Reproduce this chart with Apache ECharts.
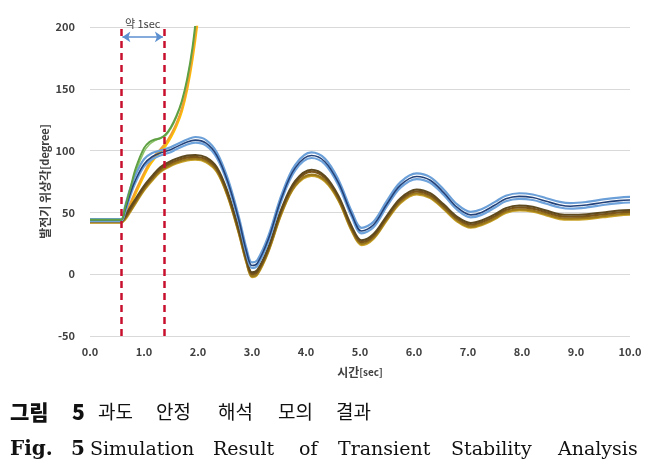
<!DOCTYPE html>
<html><head><meta charset="utf-8">
<script src="https://cdn.jsdelivr.net/npm/echarts@6/dist/echarts.min.js"></script>
<style>html,body{margin:0;padding:0;background:#fff}#c{width:660px;height:467px}</style>
</head><body><div id="c"></div><script>
// ---- axes ----
const yTicks = [-50, 0, 50, 100, 150, 200];
const xTicks = [0, 1, 2, 3, 4, 5, 6, 7, 8, 9, 10];
const faultStart = 0.58, faultClear = 1.37;
const arrowLevel = 192;
const annotation = '약 1sec';
const xName = '시간';
const xUnit = '[sec]';
const yName = '발전기 위상각';
const yUnit = '[degree]';

// ---- unstable cases (time base + angles) ----
const tUnstable = [0, 0.5, 0.58, 0.65, 0.75, 0.85, 1.0, 1.1, 1.2, 1.3, 1.4, 1.5, 1.6, 1.7, 1.8, 1.9, 2.0, 2.05];
const vGreen    = [44, 44, 44, 54, 70, 86, 102, 107, 109, 110, 113, 119, 128, 140, 158, 184, 222, 245];
const vGreen2   = [43, 43, 43, 52, 67, 83, 99, 105, 108, 110, 112, 118, 127, 139, 157, 182, 218, 240];
const vOrange   = [43, 43, 43, 48, 58, 68, 82, 90, 96, 101, 106, 113, 122, 134, 152, 178, 212, 235];
const vYellow   = [42, 42, 42, 47, 56, 66, 80, 88, 94, 99, 104, 111, 120, 132, 150, 175, 208, 232];

// ---- stable cases (shared time base) ----
const tStable  = [0, 0.5, 0.58, 0.65, 0.75, 0.85, 1.0, 1.15, 1.3, 1.45, 1.6, 1.8, 1.95, 2.15, 2.35, 2.55, 2.75, 2.9, 3.0, 3.1, 3.3, 3.55, 3.8, 4.1, 4.35, 4.6, 4.85, 5.03, 5.25, 5.5, 5.75, 6.05, 6.3, 6.55, 6.8, 7.05, 7.25, 7.5, 7.7, 7.95, 8.2, 8.45, 8.7, 8.9, 9.2, 9.5, 9.8, 10.0];
const vBlueHi  = [44.5, 44.5, 44.5, 55, 70, 81, 93, 98, 100, 102, 105, 109, 111, 108.5, 98.5, 77.5, 47.5, 20.5, 9.5, 11.5, 30.5, 64.5, 88.5, 98.5, 93.5, 76.5, 50.5, 37.5, 42.5, 59.5, 74.5, 81.5, 78.5, 68.5, 56.5, 50.5, 52.5, 58.5, 63.5, 65.5, 64.5, 61.5, 58.5, 57.5, 58.5, 60.5, 62, 62.5];
const vNavy    = [44, 44, 44, 52, 66, 77, 89, 95, 98, 100, 103, 107, 108.5, 106, 96, 75, 45, 18, 7, 9, 28, 62, 86, 96, 91, 74, 48, 35, 40, 57, 72, 79, 76, 66, 54, 48, 50, 56, 61, 63, 62, 59, 56, 55, 56, 58, 59.5, 60];
const vBlueLo  = [43, 43, 43, 50, 64, 75, 87, 93, 96, 98, 101, 105, 106.5, 104, 94, 73, 43, 16, 5, 7, 26, 60, 84, 94, 89, 72, 46, 33, 38, 55, 70, 77, 74, 64, 52, 46, 48, 54, 59, 61, 60, 57, 54, 53, 54, 56, 57.5, 58];
const vBrownHi = [44, 44, 44, 47.5, 54.5, 61.5, 71.5, 79.5, 86.5, 90.5, 93.5, 96, 96.5, 94.5, 86.5, 66.5, 37.5, 12.5, 1.5, 3.5, 21.5, 53.5, 75.5, 84.5, 79.5, 63.5, 38.5, 27.5, 32.5, 47.5, 61.5, 68.5, 65.5, 56.5, 46.5, 41.5, 43.5, 48.5, 53.5, 55.5, 54.5, 51.5, 48.5, 48, 48.5, 50, 51.5, 52];
const vBrown   = [43, 43, 43, 46, 53, 60, 70, 78, 85, 89, 92, 94.5, 95, 93, 85, 65, 36, 11, 0, 2, 20, 52, 74, 83, 78, 62, 37, 26, 31, 46, 60, 67, 64, 55, 45, 40, 42, 47, 52, 54, 53, 50, 47, 46.5, 47, 48.5, 50, 50.5];
const vBrownLo = [42, 42, 42, 45, 51.5, 58.5, 68.5, 76.5, 83.5, 87.5, 90.5, 93, 93.5, 91.5, 83.5, 63.5, 34.5, 9.5, -1.5, 0.5, 18.5, 50, 72, 80.5, 76, 60.5, 35.5, 24.5, 29.5, 44.5, 58.5, 65.5, 62.5, 53.5, 43.5, 38.5, 40.5, 45.5, 50.5, 52.5, 51.5, 48.5, 45.5, 45, 45.5, 47, 48.5, 49];
const vGold    = [42, 42, 42, 44, 50.5, 57.5, 67.5, 75.5, 82.5, 86.5, 89.5, 92, 92.5, 90.5, 82.5, 62.5, 33.5, 8.5, -2.5, -0.5, 17.5, 49, 71, 79.5, 75, 59.5, 34.5, 23.5, 28.5, 43.5, 57.5, 64.5, 61.5, 52.5, 42.5, 37.5, 39.5, 44.5, 49.5, 51.5, 50.5, 47.5, 44.5, 44, 44.5, 46, 47.5, 48];

// ---- caption ----
const captionKo = [['그림', true], ['5', true], ['과도', false], ['안정', false], ['해석', false], ['모의', false], ['결과', false]];
const captionKoX = [10, 72, 98, 156, 218, 278, 336];
const captionEn = [['Fig.', true], ['5', true], ['Simulation', false], ['Result', false], ['of', false], ['Transient', false], ['Stability', false], ['Analysis', false]];
const captionEnX = [10, 71, 90, 213, 299, 338, 451, 558];

const zip = (t, v) => t.map((x, i) => [x, v[i]]);

function line(name, t, v, color, width, extra) {
  return Object.assign({
    name, type: 'line', data: zip(t, v), smooth: 0.35,
    showSymbol: false, symbol: 'none', clip: true, silent: true,
    lineStyle: { color, width }, z: 3
  }, extra || {});
}

const series = [
  line('green2', tUnstable, vGreen2, '#8fc46a', 1.5),
  line('yellow', tUnstable, vYellow, '#ffc000', 2.5),
  line('orange', tUnstable, vOrange, '#f0a030', 2),
  line('gold', tStable, vGold, '#c9a227', 2),
  line('brownLo', tStable, vBrownLo, '#9c7a1c', 2.2),
  line('brown', tStable, vBrown, '#7a5418', 2.2),
  line('brownHi', tStable, vBrownHi, '#5e4a1e', 2),
  line('blueLo', tStable, vBlueLo, '#6fa3dc', 2.2),
  line('blueHi', tStable, vBlueHi, '#6b9fd8', 2.2),
  line('navy', tStable, vNavy, '#23427a', 1.6),
  line('green', tUnstable, vGreen, '#5fa044', 2, {
    markLine: {
      silent: true, animation: false, symbol: ['none', 'none'],
      label: { show: false },
      lineStyle: { color: '#c8102e', width: 2.5, type: [7, 5] },
      data: [
        { xAxis: faultStart },
        { xAxis: faultClear },
        [
          { coord: [faultStart + 0.02, arrowLevel], symbol: 'arrow', symbolSize: 8,
            lineStyle: { color: '#5b8fd0', width: 1.5, type: 'solid' },
            label: { show: true, formatter: annotation, position: 'insideMiddleTop', distance: 8,
                     color: '#404040', fontSize: 11, fontFamily: 'Noto Sans CJK KR' } },
          { coord: [faultClear - 0.02, arrowLevel], symbol: 'arrow', symbolSize: 8 }
        ]
      ]
    }
  })
];

const graphic = [];
captionKo.forEach((w, i) => graphic.push({
  type: 'text', x: captionKoX[i], y: 412, silent: true,
  style: { text: w[0], fill: '#111', verticalAlign: 'middle',
           font: (w[1] ? '900 21px "Noto Sans CJK KR"' : '400 19px "Noto Sans CJK KR"') }
}));
captionEn.forEach((w, i) => graphic.push({
  type: 'text', x: captionEnX[i], y: 450, silent: true,
  style: { text: w[0], fill: '#111', verticalAlign: 'middle',
           font: (w[1] ? 'bold 20px "DejaVu Serif"' : '19px "DejaVu Serif"') }
}));

const labelFont = { color: '#404040', fontSize: 11, fontWeight: 'bold', fontFamily: 'Noto Sans CJK KR' };
const chart = echarts.init(document.getElementById('c'), null, { renderer: 'canvas' });
chart.setOption({
  animation: false,
  backgroundColor: '#fff',
  grid: { left: 90, right: 30, top: 27, bottom: 131, containLabel: false },
  xAxis: {
    type: 'value', min: xTicks[0], max: xTicks[xTicks.length - 1], interval: 1,
    axisLine: { show: false }, axisTick: { show: false }, splitLine: { show: false },
    axisLabel: Object.assign({ margin: 10, formatter: v => v.toFixed(1) }, labelFont),
    name: '{a|' + xName + '}{b|' + xUnit + '}', nameLocation: 'middle', nameGap: 30,
    nameMoveOverlap: false,
    nameTextStyle: { rich: {
      a: { fontSize: 12, fontWeight: 'bold', color: '#404040', fontFamily: 'Noto Sans CJK KR' },
      b: { fontSize: 10, fontWeight: 'bold', color: '#404040', fontFamily: 'Noto Sans CJK KR' } } }
  },
  yAxis: {
    type: 'value', min: yTicks[0], max: yTicks[yTicks.length - 1], interval: 50,
    axisLine: { show: false }, axisTick: { show: false },
    splitLine: { show: true, lineStyle: { color: '#d9d9d9', width: 1 } },
    axisLabel: Object.assign({ margin: 15 }, labelFont),
    name: '{a|' + yName + '}{b|' + yUnit + '}', nameLocation: 'middle', nameGap: 39,
    nameMoveOverlap: false,
    nameTextStyle: { rich: {
      a: { fontSize: 12, fontWeight: 'bold', color: '#404040', fontFamily: 'Noto Sans CJK KR' },
      b: { fontSize: 11, fontWeight: 'bold', color: '#404040', fontFamily: 'Noto Sans CJK KR' } } }
  },
  series,
  graphic
});
</script></body></html>
